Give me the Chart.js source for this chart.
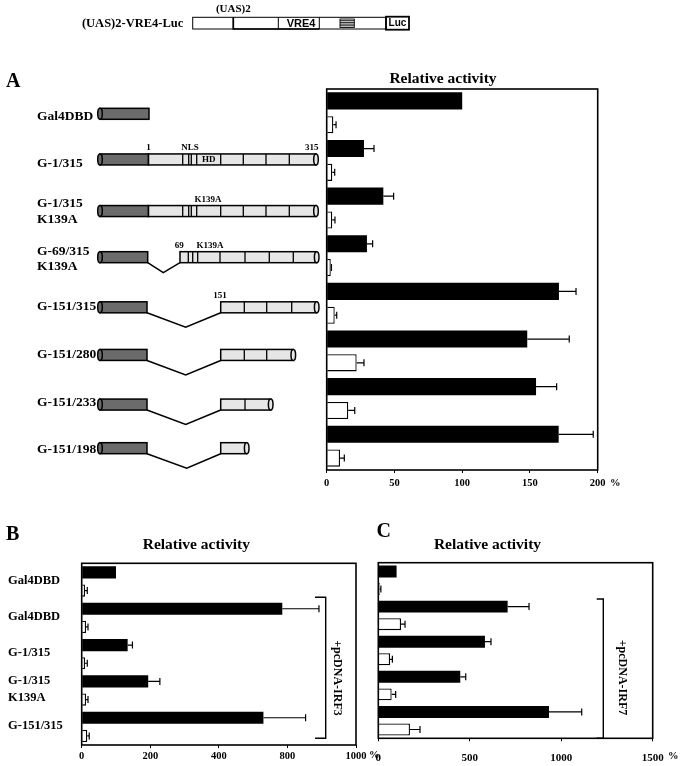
<!DOCTYPE html>
<html>
<head>
<meta charset="utf-8">
<script src="https://cdn.jsdelivr.net/npm/chart.js@4"></script>
<style>
  body { margin: 0; background: #fff; }
  #page { position: relative; width: 681px; height: 766px; }
  canvas { position: absolute; }
</style>
</head>
<body>
<div id="page">
  <canvas id="chartA" width="681" height="500" style="left:0;top:0"></canvas>
  <canvas id="chartB" width="381" height="246" style="left:0;top:520px"></canvas>
  <canvas id="chartC" width="326" height="246" style="left:355px;top:520px"></canvas>
</div>
<script>
// panel A
const categoriesA = ['Gal4DBD', 'G-1/315', ['G-1/315', 'K139A'], ['G-69/315', 'K139A'], 'G-151/315', 'G-151/280', 'G-151/233', 'G-151/198'];
const blackA = [100, 27.5, 41.8, 29.7, 171.4, 148, 154.5, 171.2];
const blackErrA = [0, 7.4, 7.6, 4.2, 12.6, 31, 15.2, 25.5];
const whiteA = [4.9, 4.1, 4.1, 3, 5.9, 22.1, 15.9, 9.8];
const whiteErrA = [2, 1.8, 2, 0.5, 1.5, 5.4, 4.8, 3.2];
const ticksA = ['0', '50', '100', '150', '200'];

// panels B and C share the rows
const categoriesBC = ['Gal4DBD', 'Gal4DBD', 'G-1/315', ['G-1/315', 'K139A'], 'G-151/315'];
const blackB = [100, 585, 134, 194, 530];
const blackErrB = [0, 107, 14, 34, 123];
const whiteB = [9.6, 12.5, 9.6, 12.5, 16.3];
const whiteErrB = [6.7, 5.9, 6.7, 5.9, 5.7];
const ticksB = ['0', '200', '400', '800', '1000'];

const blackC = [100, 707, 583, 448, 933];
const blackErrC = [0, 117, 33, 30, 179];
const whiteC = [8, 124, 64, 73, 173];
const whiteErrC = [6, 22, 13, 22, 55];
const ticksC = ['0', '500', '1000', '1500'];

const SERIF = "'Liberation Serif', 'Times New Roman', serif";
const SANS = "'Liberation Sans', Arial, sans-serif";

Chart.defaults.color = '#000';
Chart.defaults.font.family = SERIF;
Chart.defaults.font.weight = 'bold';

// one-sided error bars, drawn from each bar's end
const errorBars = {
  id: 'errorBars',
  afterDatasetsDraw(chart) {
    const ctx = chart.ctx;
    const xs = chart.scales.x;
    ctx.save();
    ctx.strokeStyle = '#000';
    ctx.lineWidth = 1.2;
    chart.data.datasets.forEach((ds, di) => {
      chart.getDatasetMeta(di).data.forEach((bar, i) => {
        const e = ds.errors[i];
        if (!e) return;
        const x1 = xs.getPixelForValue(ds.data[i] + e);
        ctx.beginPath();
        ctx.moveTo(bar.x, bar.y);
        ctx.lineTo(x1, bar.y);
        ctx.moveTo(x1, bar.y - 3.5);
        ctx.lineTo(x1, bar.y + 3.5);
        ctx.stroke();
      });
    });
    ctx.restore();
  }
};

// box round the plot, title, panel letter, unit, bracket
const frame = {
  id: 'frame',
  afterDraw(chart, args, o) {
    const ctx = chart.ctx;
    const a = chart.chartArea;
    ctx.save();
    ctx.strokeStyle = '#000';
    ctx.lineWidth = 1.6;
    ctx.strokeRect(a.left, a.top, a.right - a.left, a.bottom - a.top);
    ctx.fillStyle = '#000';
    ctx.textBaseline = 'middle';
    ctx.textAlign = 'center';
    ctx.font = 'bold 15.5px ' + SERIF;
    ctx.fillText('Relative activity', o.titleX, o.titleY);
    ctx.textAlign = 'left';
    ctx.font = 'bold 20px ' + SERIF;
    ctx.fillText(o.letter, o.letterX, o.letterY);
    ctx.font = 'bold 10.5px ' + SERIF;
    ctx.fillText('%', o.unitX, o.unitY);
    if (o.bracket) {
      const b = o.bracket;
      ctx.lineWidth = 1.4;
      ctx.beginPath();
      ctx.moveTo(b.x0, b.top);
      ctx.lineTo(b.x, b.top);
      ctx.lineTo(b.x, b.bottom);
      ctx.lineTo(b.x0, b.bottom);
      ctx.stroke();
      ctx.translate(b.textX, b.textY);
      ctx.rotate(Math.PI / 2);
      ctx.textAlign = 'center';
      ctx.font = 'bold 12px ' + SERIF;
      ctx.fillText(b.text, 0, 0);
    }
    ctx.restore();
  }
};

// construct drawings for panel A (plus the reporter on top)
const schematic = [
  { dy: 1, gray: [100, 149] },
  { dy: -1, gray: [100, 148.5], light: [148.5, 316], div: [182.7, 188.7, 191.3, 196.7, 220.7, 243.3, 266, 289.3],
    marks: [['1', 148.5], ['NLS', 190], ['315', 311.7]], inside: ['HD', 208.7] },
  { dy: 3, gray: [100, 148.5], light: [148.5, 316], div: [182.7, 188.7, 191.3, 196.7, 220.7, 243.3, 266, 289.3],
    marks: [['K139A', 208]] },
  { dy: 1.5, gray: [100, 147.7], v: [163.3, 10], light: [180, 316.7], div: [188.3, 192.7, 197.7, 220, 245, 269.3, 293.3],
    marks: [['69', 179.3], ['K139A', 210]] },
  { dy: 4, gray: [100, 147], v: [185.7, 14.5], light: [220.7, 316.7], div: [244.3, 266.7, 291.7], marks: [['151', 220]] },
  { dy: 4, gray: [100, 147], v: [185.7, 14.5], light: [220.7, 293.3], div: [244.3, 266.7] },
  { dy: 6, gray: [100, 147], v: [185.7, 14.5], light: [220.7, 270.7], div: [245] },
  { dy: 2, gray: [100, 147], v: [186.7, 14.5], light: [220.7, 246.7] }
];

function cap(ctx, x, cy, h, fill) {
  ctx.beginPath();
  ctx.ellipse(x, cy, 2.3, h / 2, 0, 0, Math.PI * 2);
  ctx.fillStyle = fill;
  ctx.fill();
  ctx.stroke();
}

const constructs = {
  id: 'constructs',
  afterDraw(chart) {
    const ctx = chart.ctx;
    const ys = chart.scales.y;
    const h = 11;
    ctx.save();
    ctx.strokeStyle = '#000';
    ctx.fillStyle = '#000';

    // reporter
    ctx.lineWidth = 1;
    ctx.strokeRect(192.7, 17.3, 193.3, 11.7);
    [233.3, 278.3, 319.3].forEach(x => {
      ctx.beginPath(); ctx.moveTo(x, 17.3); ctx.lineTo(x, 29); ctx.stroke();
    });
    ctx.lineWidth = 1.7;
    ctx.beginPath();
    ctx.moveTo(233.3, 17.3); ctx.lineTo(233.3, 29); ctx.lineTo(319.3, 29);
    ctx.stroke();
    ctx.lineWidth = 0.9;
    ctx.strokeRect(340, 19, 14.3, 8.5);
    for (let k = 1; k < 5; k++) {
      ctx.beginPath(); ctx.moveTo(340, 19 + k * 1.7); ctx.lineTo(354.3, 19 + k * 1.7); ctx.stroke();
    }
    ctx.lineWidth = 1.8;
    ctx.strokeRect(386, 16.7, 23, 13);
    ctx.textBaseline = 'middle';
    ctx.textAlign = 'center';
    ctx.font = 'bold 11px ' + SANS;
    ctx.fillText('VRE4', 301, 23.5);
    ctx.font = 'bold 10px ' + SANS;
    ctx.fillText('Luc', 397.5, 23.5);
    ctx.font = 'bold 11px ' + SERIF;
    ctx.fillText('(UAS)2', 233.3, 9);
    ctx.textAlign = 'right';
    ctx.font = 'bold 12.5px ' + SERIF;
    ctx.fillText('(UAS)2-VRE4-Luc', 183.3, 23.5);

    schematic.forEach((r, i) => {
      const cy = ys.getPixelForValue(i) + r.dy;
      const top = cy - h / 2, bot = cy + h / 2;
      ctx.lineWidth = 1.5;
      ctx.fillStyle = '#6b6b6b';
      ctx.fillRect(r.gray[0], top, r.gray[1] - r.gray[0], h);
      ctx.strokeRect(r.gray[0], top, r.gray[1] - r.gray[0], h);
      cap(ctx, r.gray[0], cy, h, '#6b6b6b');
      if (r.v) {
        ctx.beginPath();
        ctx.moveTo(r.gray[1], bot);
        ctx.lineTo(r.v[0], bot + r.v[1]);
        ctx.lineTo(r.light[0], bot);
        ctx.stroke();
      }
      if (r.light) {
        ctx.fillStyle = '#e6e6e6';
        ctx.fillRect(r.light[0], top, r.light[1] - r.light[0], h);
        ctx.strokeRect(r.light[0], top, r.light[1] - r.light[0], h);
        cap(ctx, r.light[1], cy, h, '#e6e6e6');
        ctx.lineWidth = 1.3;
        (r.div || []).forEach(x => {
          ctx.beginPath(); ctx.moveTo(x, top); ctx.lineTo(x, bot); ctx.stroke();
        });
      }
      ctx.fillStyle = '#000';
      ctx.textAlign = 'center';
      ctx.textBaseline = 'alphabetic';
      ctx.font = 'bold 9px ' + SERIF;
      (r.marks || []).forEach(m => ctx.fillText(m[0], m[1], top - 3.5));
      if (r.inside) {
        ctx.textBaseline = 'middle';
        ctx.font = 'bold 9px ' + SERIF;
        ctx.fillText(r.inside[0], r.inside[1], cy + 0.5);
      }
    });
    ctx.restore();
  }
};

function bars(black, blackErr, white, whiteErr, pct) {
  return [
    { data: black, errors: blackErr, backgroundColor: '#000', borderWidth: 0,
      barPercentage: pct, categoryPercentage: 1 },
    { data: white, errors: whiteErr, backgroundColor: '#fff', borderColor: '#000', borderWidth: 1.3,
      barPercentage: pct, categoryPercentage: 1 }
  ];
}

function xAxis(max, step, labels, size, pad, height) {
  return {
    type: 'linear', min: 0, max: max,
    ticks: { stepSize: step, callback: (v, i) => labels[i], font: { size: size }, padding: pad, maxRotation: 0, autoSkip: false },
    grid: { drawOnChartArea: false, tickLength: 3, color: '#000' },
    border: { display: false },
    afterFit: s => { s.height = height; }
  };
}

new Chart('chartA', {
  type: 'bar',
  data: { labels: categoriesA, datasets: bars(blackA, blackErrA, whiteA, whiteErrA, 0.72) },
  options: {
    indexAxis: 'y', responsive: false, animation: false, devicePixelRatio: 1,
    layout: { padding: { left: 37, top: 89, right: 83.3, bottom: 0 } },
    scales: {
      x: xAxis(200, 50, ticksA, 10.5, 4, 30),
      y: {
        ticks: { crossAlign: 'far', autoSkip: false, labelOffset: 3.5, font: { size: 13.5, lineHeight: 1.15 } },
        grid: { display: false }, border: { display: false },
        afterFit: s => { s.width = 289.7; }
      }
    },
    plugins: {
      legend: { display: false }, tooltip: { enabled: false },
      frame: { titleX: 443, titleY: 78.5, letter: 'A', letterX: 6, letterY: 82, unitX: 610, unitY: 483.5 }
    }
  },
  plugins: [errorBars, frame, constructs]
});

new Chart('chartB', {
  type: 'bar',
  data: { labels: categoriesBC, datasets: bars(blackB, blackErrB, whiteB, whiteErrB, 0.67) },
  options: {
    indexAxis: 'y', responsive: false, animation: false, devicePixelRatio: 1,
    layout: { padding: { left: 8, top: 43.3, right: 25, bottom: 0 } },
    scales: {
      x: xAxis(800, 200, ticksB, 10.5, 2, 21),
      y: {
        ticks: { crossAlign: 'far', autoSkip: false, labelOffset: -1, font: { size: 12.5, lineHeight: 1.4 } },
        grid: { display: false }, border: { display: false },
        afterFit: s => { s.width = 73.7; }
      }
    },
    plugins: {
      legend: { display: false }, tooltip: { enabled: false },
      frame: { titleX: 196.3, titleY: 25, letter: 'B', letterX: 6, letterY: 15, unitX: 369, unitY: 235,
        bracket: { x: 325.7, x0: 315, top: 77.3, bottom: 218.3, textX: 337.3, textY: 158, text: '+pcDNA-IRF3' } }
    }
  },
  plugins: [errorBars, frame]
});

new Chart('chartC', {
  type: 'bar',
  data: { labels: categoriesBC, datasets: bars(blackC, blackErrC, whiteC, whiteErrC, 0.68) },
  options: {
    indexAxis: 'y', responsive: false, animation: false, devicePixelRatio: 1,
    layout: { padding: { left: 23.3, top: 42.7, right: 28.3, bottom: 0 } },
    scales: {
      x: xAxis(1500, 500, ticksC, 11, 10, 27.7),
      y: {
        ticks: { display: false },
        grid: { display: false }, border: { display: false },
        afterFit: s => { s.width = 0; }
      }
    },
    plugins: {
      legend: { display: false }, tooltip: { enabled: false },
      frame: { titleX: 132.5, titleY: 25, letter: 'C', letterX: 21.5, letterY: 11.5, unitX: 313, unitY: 236.7,
        bracket: { x: 248.3, x0: 241.7, top: 79, bottom: 218.3, textX: 266.7, textY: 157.5, text: '+pcDNA-IRF7' } }
    }
  },
  plugins: [errorBars, frame]
});
</script>
</body>
</html>
